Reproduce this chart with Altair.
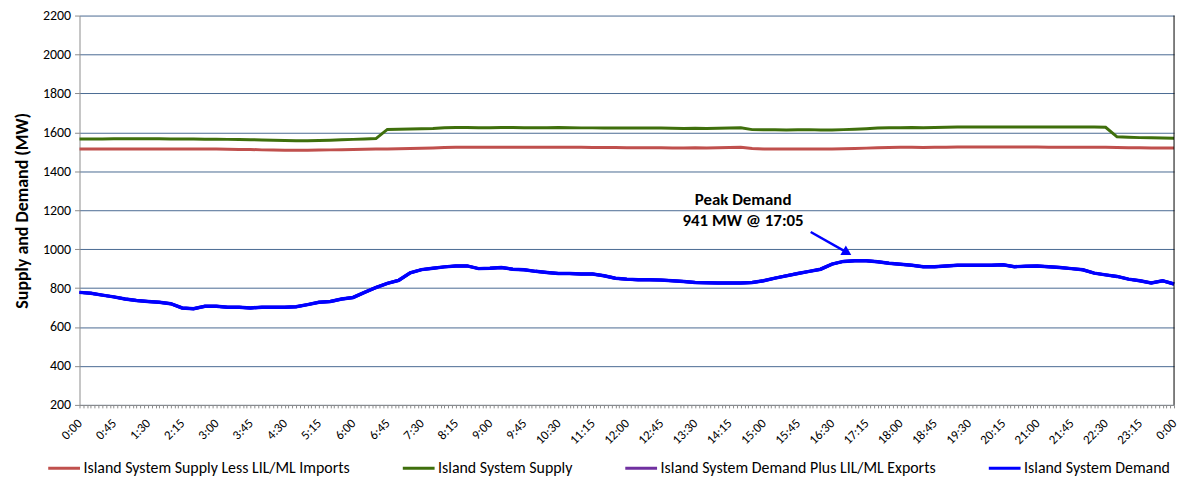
import altair as alt
import pandas as pd

# time of day in minutes (15-minute readings, 0:00 .. 24:00)
minutes = list(range(0, 1441, 15))

supply_less_imports = [
    1514, 1514, 1514, 1515, 1515, 1515, 1515, 1515, 1515, 1515, 1514, 1514,
    1514, 1513, 1512, 1512, 1510, 1509, 1508, 1508, 1508, 1509, 1510, 1511,
    1512, 1513, 1514, 1515, 1516, 1517, 1518, 1520, 1522, 1524, 1524, 1524,
    1524, 1524, 1524, 1524, 1524, 1524, 1524, 1523, 1523, 1522, 1522, 1522,
    1521, 1521, 1521, 1521, 1520, 1520, 1521, 1520, 1521, 1522, 1523, 1517,
    1515, 1515, 1514, 1515, 1515, 1514, 1514, 1516, 1517, 1519, 1521, 1522,
    1523, 1523, 1522, 1523, 1524, 1525, 1525, 1525, 1525, 1525, 1525, 1525,
    1525, 1524, 1524, 1524, 1523, 1523, 1523, 1522, 1521, 1521, 1520, 1520,
    1520,
]

supply = [
    1566, 1566, 1566, 1567, 1567, 1567, 1567, 1567, 1566, 1566, 1566, 1565,
    1565, 1564, 1563, 1562, 1561, 1559, 1558, 1557, 1557, 1558, 1560, 1562,
    1564, 1566, 1568, 1615, 1616, 1617, 1618, 1620, 1624, 1625, 1625, 1624,
    1624, 1625, 1625, 1624, 1624, 1624, 1625, 1624, 1623, 1623, 1622, 1622,
    1622, 1622, 1622, 1622, 1621, 1620, 1621, 1620, 1621, 1622, 1624, 1614,
    1613, 1613, 1612, 1613, 1614, 1612, 1612, 1614, 1616, 1619, 1622, 1624,
    1624, 1625, 1624, 1625, 1626, 1627, 1627, 1627, 1628, 1628, 1628, 1628,
    1627, 1627, 1627, 1627, 1627, 1627, 1626, 1577, 1575, 1573, 1572, 1571,
    1570,
]

demand = [
    778, 773, 764, 755, 744, 736, 731, 727, 720, 698, 694, 707,
    707, 702, 702, 698, 702, 702, 702, 704, 715, 727, 731, 744,
    752, 778, 803, 824, 840, 878, 895, 902, 909, 914, 914, 900,
    902, 906, 897, 894, 886, 880, 875, 875, 872, 872, 863, 851,
    846, 843, 843, 841, 838, 834, 829, 828, 826, 826, 826, 829,
    838, 851, 863, 875, 886, 897, 923, 937, 940, 940, 935, 928,
    923, 917, 910, 910, 914, 917, 917, 917, 917, 920, 910, 912,
    914, 910, 906, 900, 894, 877, 868, 860, 846, 838, 826, 838,
    821,
]

# no LIL/ML exports during the day: demand plus exports equals demand
demand_plus_exports = list(demand)

series_names = [
    "Island System Supply Less LIL/ML Imports",
    "Island System Supply",
    "Island System Demand Plus LIL/ML Exports",
    "Island System Demand",
]
series_colors = ["#C0504D", "#3F6F0C", "#7030A0", "#0000FF"]

y_ticks = [200, 400, 600, 800, 1000, 1200, 1400, 1600, 1800, 2000, 2200]
x_ticks = list(range(0, 1441, 5))

peak_text = ["Peak Demand", "941 MW @ 17:05"]
peak_text_t = [873, 873]
peak_text_v = [1251, 1144]
arrow_t, arrow_v = [962], [1088]
arrow_t2, arrow_v2 = [1010], [982]

FONT = "Carlito, Lato, sans-serif"

rows = []
for name, vals in zip(series_names, [supply_less_imports, supply, demand_plus_exports, demand]):
    for m, v in zip(minutes, vals):
        rows.append({"t": m, "v": v, "series": name})
df = pd.DataFrame(rows)
demand_df = pd.DataFrame({"t": minutes, "v": demand})
border_df = pd.DataFrame({"t": [minutes[-1]]})
text_df = pd.DataFrame({"t": peak_text_t, "v": peak_text_v, "label": peak_text})
arrow_df = pd.DataFrame({"t": arrow_t, "v": arrow_v, "t2": arrow_t2, "v2": arrow_v2})

x_scale = alt.Scale(domain=[0, 1440], nice=False, zero=False)
y_scale = alt.Scale(domain=[200, 2200], nice=False, zero=False)

label_expr = (
    "datum.value % 45 == 0 ? (floor(datum.value / 60) % 24) + ':' + "
    "(datum.value % 60 < 10 ? '0' : '') + (datum.value % 60) : ''"
)

x_axis = alt.Axis(
    values=x_ticks,
    labelExpr=label_expr,
    labelAngle=315,
    labelAlign="right",
    labelBaseline="middle",
    labelOverlap=False,
    labelBound=False,
    labelFlush=False,
    labelFontSize=13,
    labelFont=FONT,
    labelColor="#000000",
    labelPadding=13,
    grid=False,
    tickSize=3,
    tickColor="#8C8C8C",
    domainColor="#8C8C8C",
    title=None,
)
y_axis = alt.Axis(
    values=y_ticks,
    format="d",
    labelOverlap=False,
    grid=True,
    gridColor="#4A6A92",
    gridWidth=1,
    tickSize=5,
    tickColor="#8C8C8C",
    domainColor="#8C8C8C",
    labelFontSize=14,
    labelFont=FONT,
    labelColor="#000000",
    labelPadding=4,
    title="Supply and Demand (MW)",
    titleFont=FONT,
    titleFontSize=18,
    titleFontWeight="bold",
    titleColor="#000000",
    titlePadding=11,
)


def X(field):
    return alt.X(field, scale=x_scale, axis=x_axis)


def Y(field):
    return alt.Y(field, scale=y_scale, axis=y_axis)


lines = alt.Chart(df).mark_line(strokeWidth=3).encode(
    x=X("t:Q"),
    y=Y("v:Q"),
    color=alt.Color(
        "series:N",
        scale=alt.Scale(domain=series_names, range=series_colors),
        legend=alt.Legend(
            title=None,
            orient="none",
            legendX=-33,
            legendY=438,
            direction="horizontal",
            symbolType="stroke",
            symbolStrokeWidth=3,
            symbolSize=1024,
            labelFont=FONT,
            labelFontSize=16,
            labelColor="#000000",
            labelOffset=2,
            columnPadding=46,
            labelLimit=400,
            padding=0,
        ),
    ),
    order=alt.Order("series:N"),
)

demand_top = alt.Chart(demand_df).mark_line(strokeWidth=3.5, color="#0000FF").encode(
    x=X("t:Q"), y=Y("v:Q")
)

border = alt.Chart(border_df).mark_rule(color="#000000", strokeWidth=1).encode(x=X("t:Q"))

texts = alt.Chart(text_df).mark_text(
    font=FONT, fontSize=17, fontWeight="bold", color="#000000", align="center", baseline="middle"
).encode(x=X("t:Q"), y=Y("v:Q"), text="label:N")

arrow_line = alt.Chart(arrow_df).mark_rule(color="#0000FF", strokeWidth=2.5).encode(
    x=X("t:Q"),
    y=Y("v:Q"),
    x2="t2:Q",
    y2="v2:Q",
)
arrow_head = alt.Chart(arrow_df).mark_point(
    shape="triangle-up", angle=120, size=120, filled=True, color="#0000FF", opacity=1
).encode(x=X("t2:Q"), y=Y("v2:Q"))

chart = (
    alt.layer(lines, demand_top, border, texts, arrow_line, arrow_head)
    .properties(
        width=1102,
        height=392,
        autosize=alt.AutoSizeParams(type="none"),
        padding={"left": 72, "top": 6, "right": 5, "bottom": 73},
        background="#FFFFFF",
    )
    .configure_view(stroke=None)
)

chart.save("out.html", embed_options={"renderer": "svg", "actions": False})
